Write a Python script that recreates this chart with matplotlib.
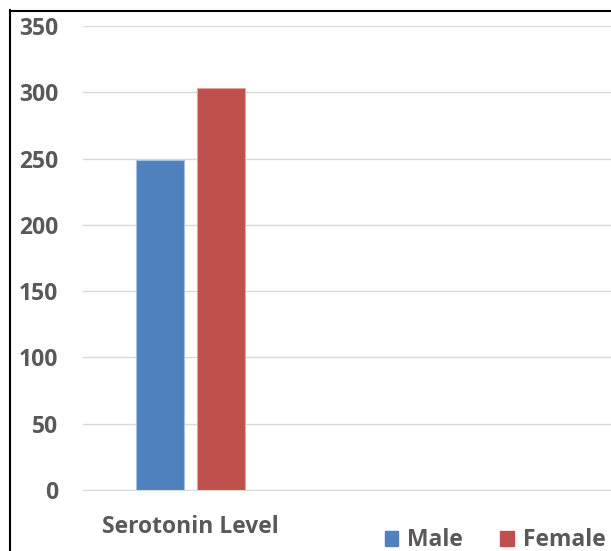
import numpy as np
import matplotlib
matplotlib.use("Agg")
import matplotlib.pyplot as plt
from matplotlib.lines import Line2D

categories = ["Serotonin Level"]
series_names = ["Male", "Female"]
male_values = [249]
female_values = [303]
colors = ["#4F81BD", "#C0504D"]
y_ticks = [0, 50, 100, 150, 200, 250, 300, 350]

plt.rcParams['font.family'] = ['Open Sans', 'DejaVu Sans']

fig = plt.figure(figsize=(6.11, 5.51), dpi=100)
ax = fig.add_axes([83 / 611, 1 - 490 / 551, 1 - 83 / 611, 464 / 551])

x = np.arange(len(categories))
w = 0.223
off = 0.142
ax.bar(x - off, male_values, w, color=colors[0], edgecolor="#A7C0DE", linewidth=0.8, label=series_names[0], zorder=3)
ax.bar(x + off, female_values, w, color=colors[1], edgecolor="#E3A5A4", linewidth=0.8, label=series_names[1], zorder=3)

ax.set_xlim(-0.5, (611 - 83) / 215 - 0.5)
ax.set_ylim(0, 350)
ax.set_yticks(y_ticks)
ax.set_yticklabels([str(v) for v in y_ticks], fontsize=16.5, fontweight="bold", color="#595959")
ax.tick_params(axis="y", length=0, pad=18)
ax.set_xticks(x)
ax.set_xticklabels(categories, fontsize=16.5, fontweight="bold", color="#595959")
ax.tick_params(axis="x", length=0, pad=18)
ax.grid(axis="y", color="#D9D9D9", linewidth=1, zorder=0)
for s in ["top", "right", "left"]:
    ax.spines[s].set_visible(False)
ax.spines["bottom"].set_color("#D9D9D9")

# legend at the bottom right
handles = [plt.Rectangle((0, 0), 1, 1, color=c) for c in colors]
fig.legend(handles, series_names, loc="lower right", bbox_to_anchor=(1.025, -0.04), ncol=2,
           frameon=False, prop={"size": 16.5, "weight": "bold"}, labelcolor="#595959",
           handlelength=0.6, handleheight=0.6, handletextpad=0.4, columnspacing=1.6)

# outer border (left and top only visible)
fig.add_artist(Line2D([9.5 / 611, 9.5 / 611], [0, 1 - 10 / 551], color="black", linewidth=1.5, transform=fig.transFigure))
fig.add_artist(Line2D([9.5 / 611, 1], [1 - 10.5 / 551, 1 - 10.5 / 551], color="black", linewidth=1.5, transform=fig.transFigure))

fig.savefig("out.png", dpi=100)
